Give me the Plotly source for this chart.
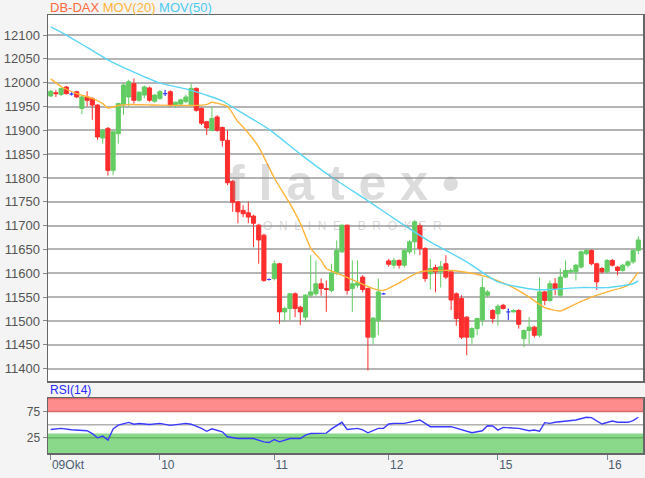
import plotly.graph_objects as go

# ---------------- data ----------------
day_labels = ["09Okt", "10", "11", "12", "15", "16"]
day_start_idx = [0, 21, 43, 65, 86, 107]

opens = [11972, 11979, 11975, 11991, 11976, 11981, 11946, 11970, 11967, 11953,
         11884, 11904, 11816, 11893, 11953, 11970, 11998, 11963, 11974, 11989,
         11961, 11967, 11977, 11981, 11952, 11955, 11960, 11953, 11988, 11946,
         11918, 11900, 11928, 11906, 11879, 11793, 11750, 11732, 11727, 11720,
         11701, 11680, 11587, 11589, 11620, 11519, 11526, 11557, 11529, 11508,
         11554, 11557, 11578, 11568, 11564, 11600, 11645, 11701, 11568, 11575,
         11592, 11568, 11466, 11501, 11557, 11626, 11617, 11627, 11617, 11645,
         11666, 11700, 11652, 11599, 11612, 11603, 11620, 11603, 11557, 11547,
         11508, 11466, 11484, 11502, 11554, 11522, 11515, 11533, 11519, 11519,
         11522, 11463, 11480, 11487, 11470, 11561, 11543, 11578, 11554, 11592,
         11603, 11603, 11613, 11641, 11648, 11620, 11610, 11603, 11627, 11613,
         11606, 11617, 11624, 11648]
highs = [11985, 11985, 11990, 11993, 11980, 11983, 11972, 11982, 11969, 11955,
         11903, 11907, 11899, 11958, 11999, 12006, 12009, 11982, 11994, 11992,
         11976, 11985, 11985, 11984, 11960, 11966, 11975, 11998, 11990, 11948,
         11920, 11950, 11932, 11908, 11900, 11796, 11752, 11743, 11750, 11723,
         11704, 11683, 11589, 11627, 11622, 11530, 11559, 11560, 11532, 11556,
         11638, 11627, 11589, 11585, 11620, 11669, 11702, 11702, 11627, 11627,
         11596, 11570, 11508, 11589, 11559, 11630, 11632, 11629, 11650, 11670,
         11712, 11705, 11655, 11630, 11618, 11626, 11638, 11606, 11560, 11554,
         11510, 11487, 11507, 11592, 11565, 11525, 11535, 11536, 11526, 11524,
         11525, 11482, 11508, 11490, 11592, 11563, 11585, 11590, 11610, 11627,
         11610, 11620, 11648, 11650, 11650, 11622, 11613, 11630, 11630, 11615,
         11620, 11627, 11650, 11678]
lows = [11970, 11970, 11972, 11975, 11973, 11968, 11934, 11950, 11922, 11880,
        11872, 11805, 11806, 11872, 11932, 11950, 11956, 11960, 11967, 11960,
        11958, 11964, 11972, 11950, 11947, 11953, 11957, 11950, 11939, 11911,
        11890, 11898, 11897, 11866, 11785, 11729, 11705, 11718, 11705, 11655,
        11620, 11582, 11585, 11585, 11494, 11500, 11501, 11508, 11491, 11500,
        11550, 11553, 11553, 11519, 11560, 11596, 11643, 11555, 11519, 11570,
        11560, 11396, 11452, 11470, 11555, 11614, 11610, 11610, 11612, 11640,
        11640, 11638, 11582, 11566, 11560, 11570, 11588, 11523, 11490, 11462,
        11428, 11452, 11470, 11490, 11550, 11495, 11490, 11524, 11502, 11518,
        11484, 11445, 11452, 11465, 11466, 11533, 11540, 11554, 11550, 11590,
        11600, 11585, 11610, 11638, 11617, 11565, 11600, 11600, 11614, 11596,
        11603, 11612, 11620, 11640]
closes = [11982, 11977, 11988, 11977, 11976, 11970, 11970, 11963, 11953, 11886,
          11900, 11816, 11897, 11956, 11995, 12002, 11963, 11980, 11991, 11963,
          11974, 11981, 11977, 11953, 11959, 11964, 11970, 11988, 11942, 11915,
          11905, 11925, 11900, 11879, 11790, 11749, 11729, 11725, 11718, 11705,
          11670, 11585, 11587, 11620, 11519, 11526, 11557, 11526, 11519, 11554,
          11561, 11578, 11568, 11566, 11600, 11648, 11701, 11564, 11578, 11580,
          11566, 11466, 11506, 11561, 11557, 11619, 11627, 11617, 11648, 11666,
          11708, 11652, 11589, 11610, 11603, 11614, 11592, 11544, 11505, 11466,
          11466, 11484, 11505, 11570, 11561, 11505, 11531, 11526, 11519, 11522,
          11493, 11480, 11487, 11470, 11561, 11543, 11578, 11568, 11592, 11606,
          11606, 11617, 11645, 11648, 11620, 11582, 11603, 11627, 11617, 11606,
          11617, 11624, 11648, 11670]

ma20_x = [0, 2, 5, 8, 10, 11, 13, 15, 20, 27, 30, 31, 32, 34, 36, 37, 40, 43, 46,
          48, 50, 52, 53, 56, 59, 62, 64, 67, 71, 77, 81, 84, 88, 92, 95, 98, 101,
          104, 107, 111, 113]
ma20_y = [12008, 11992, 11977, 11967, 11956, 11947, 11952, 11954, 11953, 11952,
          11954, 11959, 11957, 11950, 11918, 11907, 11865, 11800, 11746, 11705,
          11653, 11627, 11610, 11596, 11582, 11568, 11564, 11580, 11603, 11606,
          11600, 11592, 11575, 11550, 11528, 11521, 11536, 11550, 11561, 11575,
          11603]

ma50_x = [0, 3, 7, 11, 16, 21, 26, 31, 33, 36, 42, 48, 54, 61, 67, 73, 80, 86,
          93, 96, 102, 107, 112, 113]
ma50_y = [12117, 12100, 12074, 12048, 12022, 11999, 11987, 11970, 11962, 11942,
          11902, 11850, 11802, 11752, 11708, 11666, 11624, 11582, 11566, 11566,
          11570, 11570, 11578, 11584]

rsi_x = [0, 2, 4, 7, 8, 9, 10, 11, 12, 13, 15, 16, 17, 19, 21, 23, 26, 27, 29,
         30, 31, 33, 34, 36, 39, 41, 42, 43, 44, 46, 48, 49, 50, 53, 54, 56, 57,
         59, 60, 61, 63, 64, 65, 66, 68, 71, 73, 77, 81, 83, 84, 85, 86, 87, 90,
         92, 93, 94, 95, 96, 97, 100, 101, 103, 104, 106, 108, 109, 111, 112, 113]
rsi_y = [41, 43, 40.5, 38.5, 33, 25, 28.5, 20.5, 42, 49.3, 54.5, 51, 52.4, 50.4,
         52.5, 48.7, 52.5, 51, 43, 37.5, 42.3, 36.5, 27, 23.7, 23.7, 17.3, 16,
         21.8, 17.3, 23.7, 23.7, 30, 33.3, 34, 42, 54.6, 41, 43, 40, 34.6, 43, 43,
         51.4, 52.6, 52.6, 59, 46.2, 46.2, 34.6, 38.5, 48.1, 47.5, 39.8, 44.9, 43,
         38.5, 39.8, 37.8, 53.9, 52.6, 54.6, 57.1, 59, 64.2, 63.5, 51.4, 57.1,
         54.6, 54.6, 57.8, 64.2]

price_ticks = list(range(11400, 12101, 50))
rsi_ticks = [25, 75]

# ---------------- styling ----------------
GREEN = "#62cc62"
RED = "#ff2e2e"
BLUE = "#3a3aff"
ORANGE = "#ffb43a"
CYAN = "#5cd6f5"
FONT = "Liberation Sans, Arial, sans-serif"

idx = list(range(len(opens)))
is_doji = [o == c for o, c in zip(opens, closes)]


def pick(arr, keep):
    return [v if k else None for v, k in zip(arr, keep)]


not_doji = [not d for d in is_doji]

fig = go.Figure()

fig.add_trace(go.Candlestick(
    x=idx, open=pick(opens, not_doji), high=pick(highs, not_doji),
    low=pick(lows, not_doji), close=pick(closes, not_doji),
    increasing=dict(line=dict(color=GREEN, width=1), fillcolor=GREEN),
    decreasing=dict(line=dict(color=RED, width=1), fillcolor=RED),
    xaxis="x", yaxis="y", hoverinfo="skip", whiskerwidth=0,
))
fig.add_trace(go.Candlestick(
    x=idx, open=pick(opens, is_doji), high=pick(highs, is_doji),
    low=pick(lows, is_doji), close=pick(closes, is_doji),
    increasing=dict(line=dict(color=BLUE, width=1.2), fillcolor=BLUE),
    decreasing=dict(line=dict(color=BLUE, width=1.2), fillcolor=BLUE),
    xaxis="x", yaxis="y", hoverinfo="skip", whiskerwidth=0,
))

fig.add_trace(go.Scatter(x=ma20_x, y=ma20_y, mode="lines",
                         line=dict(color=ORANGE, width=1.4, shape="spline", smoothing=0.6),
                         xaxis="x", yaxis="y", hoverinfo="skip"))
fig.add_trace(go.Scatter(x=ma50_x, y=ma50_y, mode="lines",
                         line=dict(color=CYAN, width=1.4, shape="spline", smoothing=0.6),
                         xaxis="x", yaxis="y", hoverinfo="skip"))

fig.add_trace(go.Scatter(x=rsi_x, y=rsi_y, mode="lines", line=dict(color=BLUE, width=1.4),
                         xaxis="x2", yaxis="y2", hoverinfo="skip"))

XR = [-0.52, 113.9]
H = 478
T, B = 15, 25
ph = H - T - B
main_bottom = (453 - 381) / ph
rsi_top = (453 - 398) / ph

fig.update_layout(
    width=645, height=478,
    margin=dict(l=48, r=2, t=T, b=B, autoexpand=False),
    paper_bgcolor="#f4f4f4", plot_bgcolor="white",
    showlegend=False,
    boxgap=0.12, boxgroupgap=0.1,
    font=dict(family=FONT, size=11, color="#555"),
    xaxis=dict(domain=[0, 1], range=XR, showgrid=False, showticklabels=False,
               rangeslider=dict(visible=False), anchor="y", showline=True, mirror=True,
               linecolor="#666", linewidth=1.5, zeroline=False, ticks="", automargin=False),
    yaxis=dict(domain=[main_bottom, 1], range=[11374, 12142], tickvals=price_ticks,
               tickformat="d",
               gridcolor="#b4b4b4", gridwidth=2, showline=True, mirror=True,
               linecolor="#666", linewidth=1.5, zeroline=False, ticks="outside",
               ticklen=4, tickcolor="#888", tickfont=dict(size=13, color="#555"),
               automargin=False),
    xaxis2=dict(domain=[0, 1], range=XR, anchor="y2", tickvals=day_start_idx,
                ticktext=day_labels, ticks="outside", ticklen=5, tickcolor="#7a8796",
                ticklabelposition="outside right", showgrid=False, showline=True,
                mirror=True, linecolor="#666", linewidth=1.5, zeroline=False,
                tickfont=dict(size=12, color="#4b5d70"), automargin=False),
    yaxis2=dict(domain=[0, rsi_top], range=[-4, 101], tickvals=rsi_ticks,
                showgrid=False, showline=True, mirror=True, linecolor="#666",
                linewidth=1.5, zeroline=False, ticks="outside", ticklen=4,
                tickcolor="#888", tickfont=dict(size=12, color="#555"), automargin=False),
)

shapes = [
    dict(type="rect", xref="x2 domain", yref="y2", x0=0, x1=1, y0=75, y1=101,
         fillcolor="#ff8c8c", line=dict(width=0), layer="below"),
    dict(type="line", xref="x2 domain", yref="y2", x0=0, x1=1, y0=75, y1=75,
         line=dict(color="#d96a6a", width=1.5), layer="below"),
    dict(type="line", xref="x2 domain", yref="y2", x0=0, x1=1, y0=100, y1=100,
         line=dict(color="#d96a6a", width=1.5), layer="below"),
    dict(type="rect", xref="x2 domain", yref="y2", x0=0, x1=1, y0=-4, y1=33,
         fillcolor="#8ad98a", line=dict(width=0), layer="below"),
    dict(type="line", xref="x2 domain", yref="y2", x0=0, x1=1, y0=25, y1=25,
         line=dict(color="#62b562", width=1.5), layer="below"),
    dict(type="line", xref="x2 domain", yref="y2", x0=0, x1=1, y0=50, y1=50,
         line=dict(color="#b0b0b0", width=1.5), layer="below"),
]
fig.update_layout(shapes=shapes)

nb = "\u00a0"
broker = (nb * 2).join("ONLINE") + nb * 5 + (nb * 2).join("BROKER")

annotations = [
    dict(xref="paper", yref="paper", x=0.0, y=1 + 8 / ph, xanchor="left", yanchor="middle",
         showarrow=False, font=dict(size=13, family=FONT),
         text="<span style='color:#ff6a3d'>DB-DAX</span> <span style='color:#ffb43a'>MOV(20)</span> "
              "<span style='color:#4ccbf0'>MOV(50)</span>"),
    dict(xref="paper", yref="paper", x=0.0, y=(453 - 390) / ph, xanchor="left", yanchor="middle",
         showarrow=False, text="RSI(14)", font=dict(size=12, family=FONT, color="#2a2aff")),
    dict(xref="paper", yref="paper", x=(343 - 48) / 595, y=(453 - 183) / ph, xanchor="center",
         yanchor="middle", showarrow=False, text=f"<b>f{nb}l{nb}a{nb}t{nb}e{nb}x{nb}\u2022</b>",
         font=dict(size=50, family=FONT, color="rgba(140,140,140,0.30)")),
    dict(xref="paper", yref="paper", x=(352 - 48) / 595, y=(453 - 226) / ph, xanchor="center",
         yanchor="middle", showarrow=False, text=broker,
         font=dict(size=12, family=FONT, color="rgba(140,140,140,0.35)")),
]
fig.update_layout(annotations=annotations)

fig.write_html("out.html",
               config={"displayModeBar": False, "staticPlot": True},
               post_script="document.body.style.margin='0';document.body.style.padding='0';"
                           "document.body.style.overflow='hidden';")
